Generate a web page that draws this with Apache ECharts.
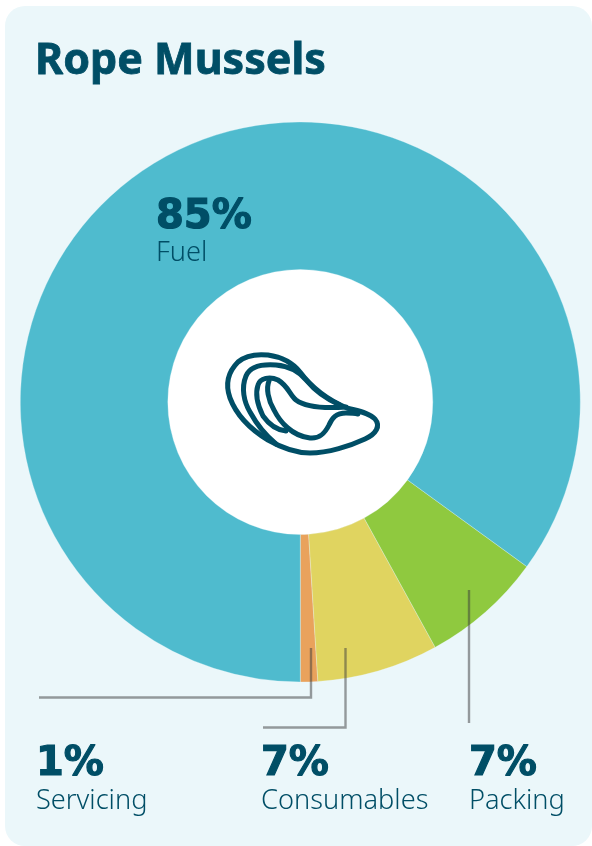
<!DOCTYPE html>
<html>
<head>
<meta charset="utf-8">
<style>
  html, body { margin: 0; padding: 0; background: #ffffff; }
  #chart { width: 592px; height: 846px; }
</style>
<script src="https://cdn.jsdelivr.net/npm/echarts@6/dist/echarts.min.js"></script>
</head>
<body>
<div id="chart"></div>
<script>
// Cost shares for rope-grown mussels, listed anticlockwise from six o'clock.
const categories = ['Servicing', 'Consumables', 'Packing', 'Fuel'];
const shares = [1, 7, 7, 85];
const sliceColors = ['#e9a25c', '#e0d460', '#8fc93f', '#4fbbce'];
const titleText = 'Rope Mussels';

const INK = '#004e66';
const LEADER = 'rgba(60,60,60,0.5)';
const CENTER = [300.3, 402];
const RADII = [132.5, 280];

// Where each caption sits: left edge and the lower edges of its two lines.
const captionSpots = {
  Servicing: [36, 785, 815],
  Consumables: [261, 785, 815],
  Packing: [469, 785, 815],
  Fuel: [156, 238, 267]
};

// Leader lines running from a slice out to its caption.
const leaders = [
  [[311, 648], [311, 697.5], [39, 697.5]],
  [[345.5, 648], [345.5, 727.5], [263, 727.5]],
  [[469, 590], [469, 723]]
];

function caption(name, value) {
  const [x, y1, y2] = captionSpots[name];
  return [
    { type: 'text', z: 20, style: { x: x, y: y1, text: value + '%', fill: INK, stroke: INK, lineWidth: 1.2,
        textVerticalAlign: 'bottom', font: '800 40px "DejaVu Sans"' } },
    { type: 'text', z: 20, style: { x: x, y: y2, text: name, fill: INK, textVerticalAlign: 'bottom',
        font: '300 27.2px "Noto Sans"' } }
  ];
}

// Mussel emblem in the doughnut hole, drawn in its own 200x140 box.
const musselPaths = [
  'M147 78 C158 81 170 83 175 89 C181 96 176 104 165 109 C150 116 128 123 110 123 C95 123 82 118 68 110 C50 99 36 84 30 68 C25 54 28 42 38 32 C46 25 58 24 68 25 C82 27 92 32 100 42 C112 58 128 70 147 78 Z',
  'M140 75 C128 70 116 62 106 50 C98 40 88 36 76 35 C62 34 50 36 46 46 C41 58 44 72 50 82 C56 93 64 104 76 114',
  'M146 77 C132 78 108 79 96 70 C90 65 88 56 78 50 C70 46 60 48 58 55 C55 64 58 76 63 86 C68 93 76 100 86 101',
  'M69 51 C66 58 68 70 74 80 C80 92 92 106 110 108 C120 109 125 103 129 95 C132 88 136 83 146 83 C150 83 154 83 158 84'
];
musselPaths.forEach((d, i) => {
  echarts.graphic.registerShape('musselCurve' + i, echarts.graphic.extendPath(d, {}));
});

const chart = echarts.init(document.getElementById('chart'), null, { renderer: 'canvas' });

chart.setOption({
  animation: false,
  graphic: [
    { type: 'rect', z: -10, shape: { x: 5, y: 6, width: 587, height: 840, r: 20 }, style: { fill: '#ebf7fa' } },
    { type: 'circle', z: -5, shape: { cx: CENTER[0], cy: CENTER[1], r: RADII[0] + 0.5 }, style: { fill: '#ffffff' } },
    { type: 'text', z: 20, style: { x: 35, y: 83, text: titleText, fill: INK, stroke: INK, lineWidth: 0.8, textVerticalAlign: 'bottom',
        font: '700 43px "Noto Sans"' } },
    ...leaders.map(pts => ({
      type: 'polyline', z: 15, shape: { points: pts },
      style: { stroke: LEADER, lineWidth: 2.4, fill: null }
    })),
    ...categories.flatMap((name, i) => caption(name, shares[i])),
    {
      type: 'group', x: 200, y: 330, z: 20,
      children: musselPaths.map((d, i) => ({
        type: 'musselCurve' + i, z: 20,
        style: { fill: null, stroke: INK, lineWidth: 5, lineCap: 'round', lineJoin: 'round' }
      }))
    }
  ],
  series: [{
    type: 'pie',
    center: CENTER,
    radius: RADII,
    startAngle: 270,
    clockwise: false,
    silent: true,
    label: { show: false },
    labelLine: { show: false },
    itemStyle: { borderColor: 'rgba(234,247,250,0.6)', borderWidth: 0.5 },
    data: categories.map((name, i) => ({
      name: name, value: shares[i], itemStyle: { color: sliceColors[i] }
    }))
  }]
});
</script>
</body>
</html>
